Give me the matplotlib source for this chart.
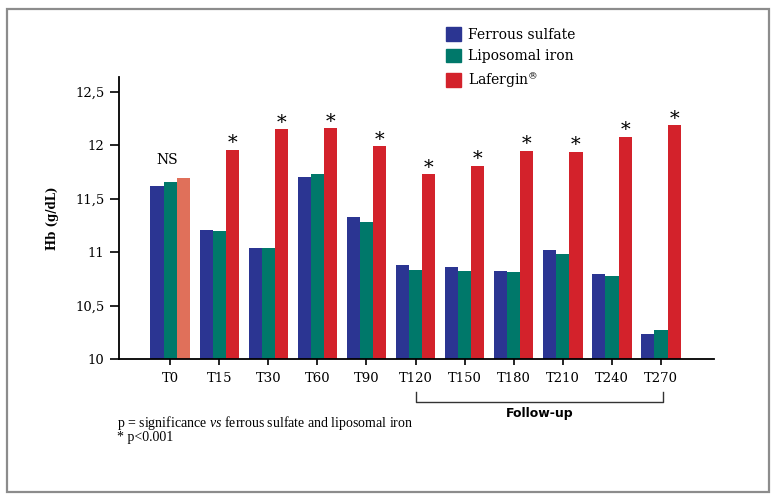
import numpy as np
import matplotlib
matplotlib.use("Agg")
import matplotlib.pyplot as plt
from matplotlib.patches import Patch, Rectangle

# data
timepoints = ["T0", "T15", "T30", "T60", "T90", "T120", "T150", "T180", "T210", "T240", "T270"]
ferrous = [11.62, 11.21, 11.04, 11.70, 11.33, 10.88, 10.86, 10.82, 11.02, 10.80, 10.23]
liposomal = [11.66, 11.20, 11.04, 11.73, 11.28, 10.83, 10.82, 10.81, 10.98, 10.78, 10.27]
lafergin = [11.69, 11.96, 12.15, 12.16, 11.99, 11.73, 11.81, 11.95, 11.94, 12.08, 12.19]
series_names = ["Ferrous sulfate", "Liposomal iron", "Lafergin$^{\u00ae}$"]
yticks = [10, 10.5, 11, 11.5, 12, 12.5]
ytick_labels = ["10", "10,5", "11", "11,5", "12", "12,5"]

BLUE = "#2b3592"
GREEN = "#00786a"
RED = "#d3222b"
ORANGE = "#e0705a"
SERIF = "DejaVu Serif"

plt.rcParams["mathtext.fontset"] = "custom"
plt.rcParams["mathtext.rm"] = "DejaVu Serif"
plt.rcParams["mathtext.it"] = "Liberation Serif:italic"

fig = plt.figure(figsize=(7.77, 5.01), dpi=100)
ax = fig.add_axes([0.1532, 0.2834, 0.7658, 0.5629])

x = np.arange(len(timepoints))
w = 0.267
ax.bar(x - w, ferrous, w, color=BLUE, zorder=2)
ax.bar(x, liposomal, w, color=GREEN, zorder=2)
red_cols = [ORANGE] + [RED] * (len(x) - 1)
ax.bar(x + w, lafergin, w, color=red_cols, zorder=2)

# significance marks
ax.text(x[0] - 0.05, 11.86, "NS", ha="center", va="center", fontsize=10, family=SERIF)
for i in x[1:]:
    ax.text(i + w, lafergin[i] - 0.025, "*", ha="center", va="bottom", fontsize=14, family=SERIF)

ax.set_xlim(-1.04, 11.08)
ax.set_ylim(10, 12.64)
ax.set_xticks(x)
ax.set_xticklabels(timepoints, family=SERIF, fontsize=9.5)
ax.set_yticks(yticks)
ax.set_yticklabels(ytick_labels, family=SERIF, fontsize=9.5)
ax.tick_params(axis="x", length=4.5, width=1.2, pad=5)
ax.tick_params(axis="y", length=6.5, width=1.2, pad=4)
ax.spines["top"].set_visible(False)
ax.spines["right"].set_visible(False)
ax.spines["left"].set_linewidth(1.3)
ax.spines["bottom"].set_linewidth(1.3)
ax.set_ylabel("Hb (g/dL)", family=SERIF, fontweight="bold", fontsize=8.5, labelpad=12)

# follow-up bracket
ax.plot([5, 5, 10.04, 10.04], [9.694, 9.60, 9.60, 9.694], color="#333333", lw=1.0, clip_on=False)
ax.text(7.52, 9.49, "Follow-up", ha="center", va="center", fontsize=9, fontweight="bold",
        family="DejaVu Sans")

handles = [Patch(color=c) for c in [BLUE, GREEN, RED]]
fig.legend(handles, series_names, loc="upper left", bbox_to_anchor=(446 / 777, 1 - 27.5 / 501),
           frameon=False, borderpad=0, borderaxespad=0, handlelength=1.1, handleheight=1.1,
           handletextpad=0.5, labelspacing=0.5, prop={"family": SERIF, "size": 10})

fig.text(117 / 777, 1 - 414 / 501,
         "p = significance $\\mathit{vs}$ ferrous sulfate and liposomal iron\n* p<0.001",
         va="top", fontsize=10, family="Liberation Serif", linespacing=0.88)

# outer frame
fig.add_artist(Rectangle((7 / 777, 9 / 501), 762 / 777, 483 / 501, transform=fig.transFigure,
                         fill=False, edgecolor="#8c8c8c", lw=1.6))

fig.savefig("out.png", dpi=100)
